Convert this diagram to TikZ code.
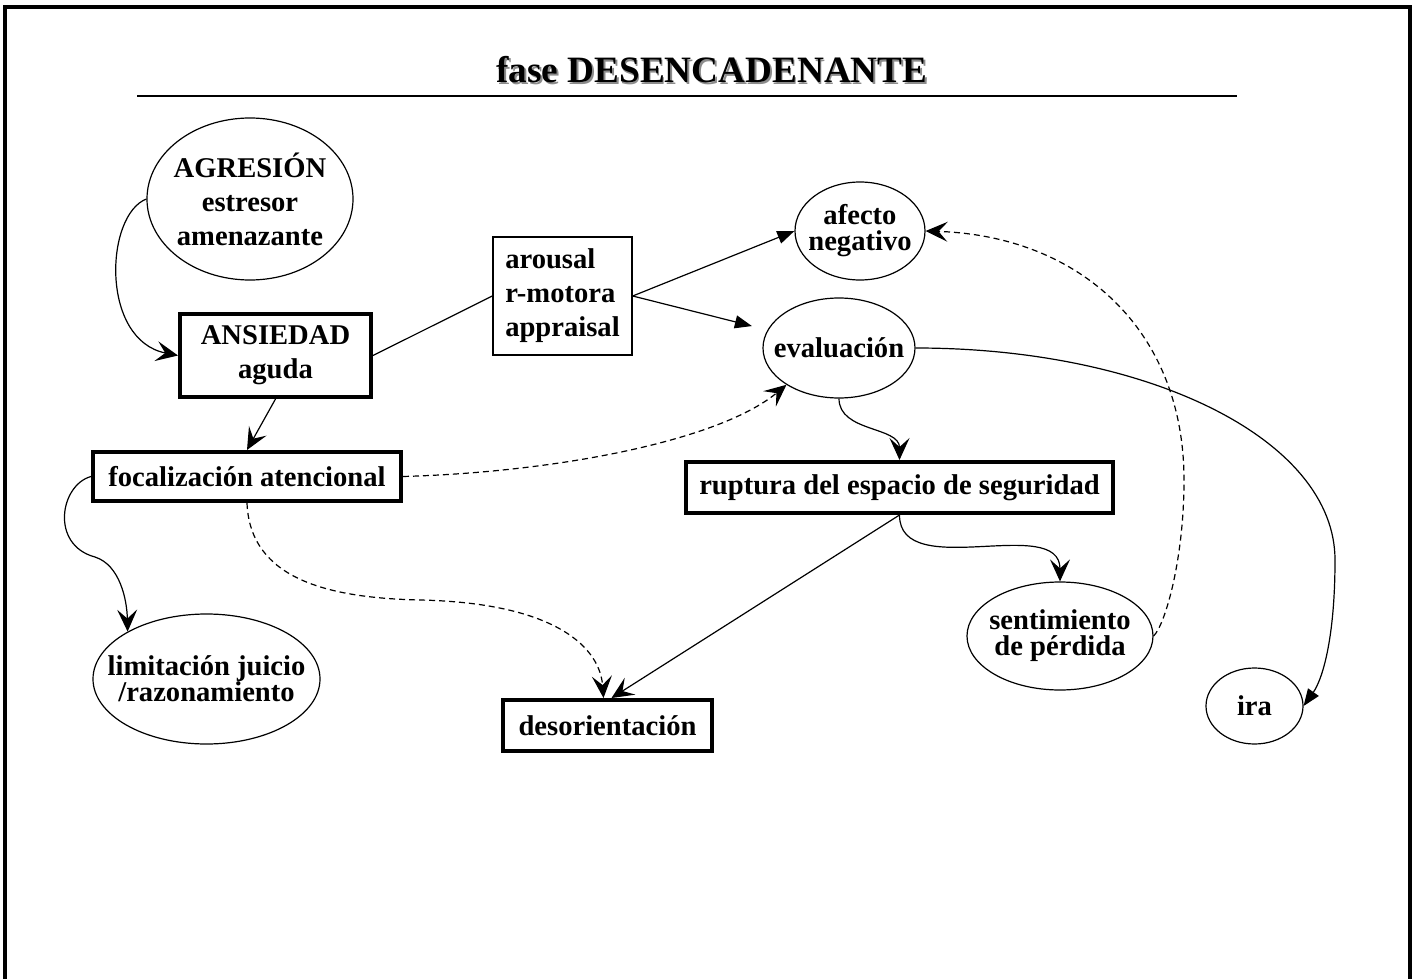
\documentclass[tikz,border=0pt]{standalone}
\usepackage{fontspec}
\setmainfont{Liberation Serif}
\usetikzlibrary{arrows.meta,shapes.geometric}
\begin{document}
\begin{tikzpicture}[x=0.5pt,y=-0.5pt,
  txt/.style={font=\bfseries\fontsize{14.3}{17}\selectfont, align=center, inner sep=0pt},
  txtt/.style={font=\bfseries\fontsize{14.3}{13}\selectfont, align=center, inner sep=0pt},
  ell/.style={draw, ellipse, line width=0.6pt, inner sep=0pt},
  thickbox/.style={draw, rectangle, line width=2pt, inner sep=0pt},
  thinbox/.style={draw, rectangle, line width=0.7pt, inner sep=0pt},
  conn/.style={line width=0.6pt},
  stl/.style={-{Stealth[length=11pt,width=10pt,inset=4.5pt]}},
  tri/.style={-{Triangle[length=8.5pt,width=6.5pt]}},
  dsh/.style={dash pattern=on 3pt off 2pt},
  ttl/.style={font=\bfseries\fontsize{18.6}{22}\selectfont, inner sep=0pt, anchor=base}
]
\useasboundingbox (0,0) rectangle (1419,979);
% frame
\draw[line width=1.6pt] (5,979) -- (5,7) -- (1410,7) -- (1410,979);
% title
\node[ttl, text=black!45] (tshadow) at (713.5,84.5) {fase DESENCADENANTE};
\node[ttl] (title) at (712,83) {fase DESENCADENANTE};
\draw[line width=0.8pt] (137,96) -- (1237,96);

% nodes
\node[ell, minimum width=103pt, minimum height=81pt,
      label={[txt]center:{AGRESIÓN\\estresor\\amenazante}}] (agr) at (250,199) {};
\node[thickbox, txt, minimum width=95.5pt, minimum height=41.5pt] (ans) at (275.5,355.5) {ANSIEDAD\\aguda};
\node[thinbox, txt, align=left, minimum width=69.5pt, minimum height=59pt] (aro) at (562.5,296) {arousal\\r-motora\\appraisal};
\node[ell, minimum width=65pt, minimum height=49pt,
      label={[txtt]center:{afecto\\negativo}}] (afe) at (860,231) {};
\node[ell, minimum width=76pt, minimum height=50pt,
      label={[txt]center:{evaluación}}] (eva) at (839,348) {};
\node[thickbox, txt, minimum width=154pt, minimum height=24.5pt] (foc) at (247,476.5) {focalización atencional};
\node[thickbox, txt, minimum width=213.5pt, minimum height=25.5pt] (rup) at (899.5,487.5) {ruptura del espacio de seguridad};
\node[ell, minimum width=93pt, minimum height=54pt,
      label={[txtt]center:{sentimiento\\de pérdida}}] (sen) at (1060,636) {};
\node[ell, minimum width=48.5pt, minimum height=38pt,
      label={[txt]center:{ira}}] (ira) at (1254.5,706) {};
\node[ell, minimum width=113.5pt, minimum height=65pt,
      label={[txtt]center:{limitación juicio\\/razonamiento}}] (lim) at (206.5,679) {};
\node[thickbox, txt, minimum width=104.5pt, minimum height=25.5pt] (des) at (607.5,725.5) {desorientación};

% connectors
\draw[conn,stl] (agr.west) .. controls (105,215) and (100,340) .. (ans.west);
\draw[conn] (ans.east) -- (aro.west);
\draw[conn,tri] (aro.east) -- (afe.west);
\draw[conn,tri,shorten >=8pt] (aro.east) -- (eva);
\draw[conn,stl] (ans.south) -- (foc.north);
\draw[conn,stl] (foc.west) .. controls (60,485) and (50,545) .. (95,557)
                 .. controls (120,565) and (127,600) .. (lim.149);
\draw[conn,dsh,stl] (foc.east) .. controls (560,472) and (720,440) .. (eva.215);
\draw[conn,dsh,stl] (foc.south) .. controls (250,580) and (330,598) .. (420,600)
                 .. controls (560,603) and (600,650) .. ([xshift=-2pt]des.north);
\draw[conn,stl] (eva.south) to[out=-90,in=90] (rup.north);
\draw[conn,stl] (rup.south) to[out=-90,in=90] (sen.north);
\draw[conn,stl] (rup.south) -- ([xshift=2pt]des.north);
\draw[conn,dsh,stl] (sen.east) .. controls (1165,625) and (1184,560) .. (1184,480)
                 .. controls (1184,330) and (1080,236) .. (afe.east);
\draw[conn,tri] (eva.east) .. controls (1150,348) and (1335,440) .. (1335,560)
                 .. controls (1335,640) and (1322,680) .. (ira.east);
\end{tikzpicture}
\end{document}
